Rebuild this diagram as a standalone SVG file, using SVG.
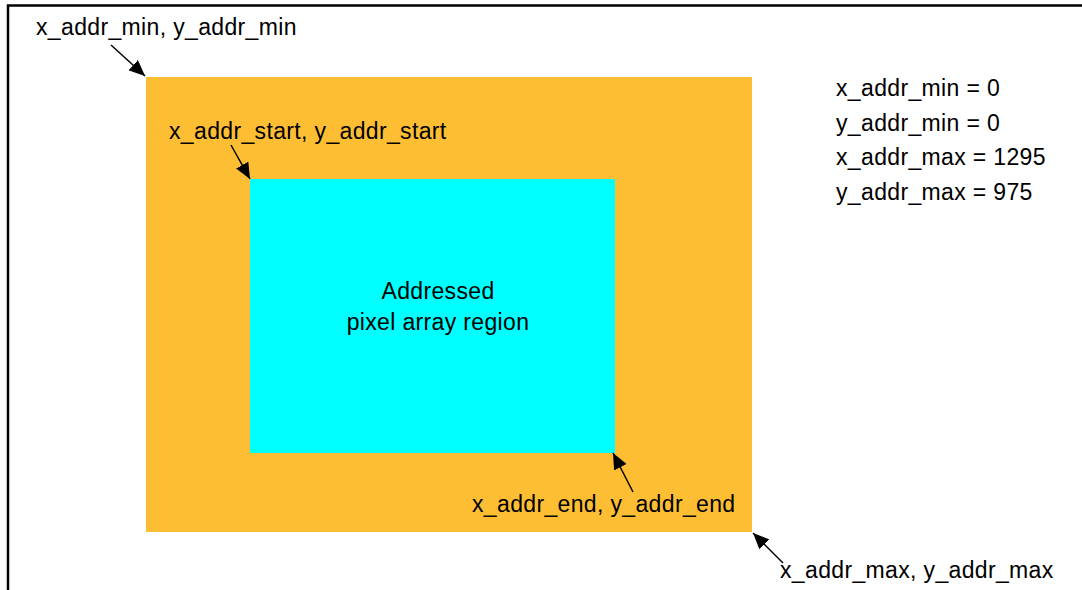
<svg xmlns="http://www.w3.org/2000/svg" width="1082" height="590" viewBox="0 0 1082 590">
<style>
text{font-family:"Liberation Sans",Arial,sans-serif;font-size:23px;letter-spacing:0.35px;fill:#000}
.conn{stroke:#000;stroke-width:1.5;fill:none;marker-end:url(#ah)}
</style>
<defs>
<marker id="ah" markerUnits="userSpaceOnUse" viewBox="0 0 16 14" refX="16" refY="7" markerWidth="16" markerHeight="14" orient="auto">
<path d="M0,0 L16,7 L0,14 z" fill="#000"/>
</marker>
</defs>
<rect width="1082" height="590" fill="#fff"/>
<g id="frame">
<path d="M8,590 V5.5 H1082" stroke="#000" stroke-width="2.5" fill="none"/>
</g>
<g id="full-array">
<rect x="146" y="77" width="606" height="455" fill="#FDBE33"/>
</g>
<g id="addressed-region">
<rect x="250" y="179" width="365" height="274" fill="#00FFFF"/>
<text x="438" y="299" text-anchor="middle">Addressed</text>
<text x="438" y="330" text-anchor="middle">pixel array region</text>
</g>
<g id="label-min"><text x="36" y="35">x_addr_min, y_addr_min</text></g>
<g id="label-start"><text x="169" y="139">x_addr_start, y_addr_start</text></g>
<g id="label-end"><text x="472" y="512">x_addr_end, y_addr_end</text></g>
<g id="label-max"><text x="780" y="578">x_addr_max, y_addr_max</text></g>
<g id="values">
<text x="836" y="96">x_addr_min = 0</text>
<text x="836" y="131">y_addr_min = 0</text>
<text x="836" y="165">x_addr_max = 1295</text>
<text x="836" y="200">y_addr_max = 975</text>
</g>
<g id="connectors">
<line class="conn" x1="111" y1="45" x2="145" y2="76"/>
<line class="conn" x1="231" y1="145" x2="250" y2="179"/>
<line class="conn" x1="633" y1="492" x2="613" y2="453"/>
<line class="conn" x1="783" y1="563" x2="753" y2="533"/>
</g>
</svg>
